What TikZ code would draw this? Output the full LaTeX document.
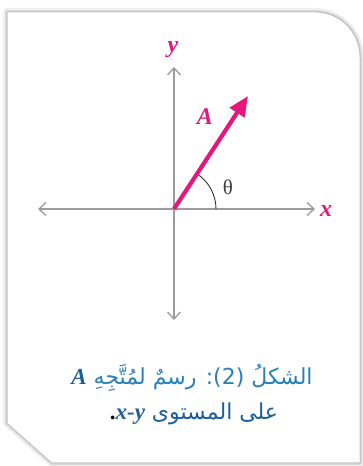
\documentclass[tikz,border=0pt]{standalone}
\usepackage{fontspec}
\setmainfont{Liberation Serif}
\newfontfamily\arabicfont[Script=Arabic]{DejaVu Sans}
\TeXXeTstate=1
\usetikzlibrary{arrows.meta,calc}
\definecolor{vecmag}{HTML}{E5177C}
\definecolor{axgray}{HTML}{9C9C9C}
\definecolor{capblue}{HTML}{2B80B9}
\definecolor{capdark}{HTML}{1D5E9C}
\newcommand{\latinbi}[1]{{\color{capdark}\fontsize{23}{24}\rmfamily\bfseries\itshape #1}}
\begin{document}
\begin{tikzpicture}[x=1pt,y=1pt,
  axisline/.style={draw=axgray,line width=1.4pt,
    {Straight Barb[length=7pt,width=13pt,line width=1.3pt]}-{Straight Barb[length=7pt,width=13pt,line width=1.3pt]}},
  vecline/.style={draw=vecmag,line width=4.2pt,-{Triangle[length=20pt,width=17pt]}},
  labtxt/.style={text=vecmag,font=\fontsize{24}{26}\selectfont\bfseries\itshape},
  captxt/.style={text=capblue,font=\fontsize{22}{24}\arabicfont}
]
\useasboundingbox (0,0) rectangle (363,466);
% card frame
\def\cardpath{(7,43) -- (7,454) -- (315,454) arc[start angle=90,end angle=0,radius=45] -- (360,3) -- (52,3) -- cycle}
\fill[white] \cardpath;
\draw[gray!12,line width=8pt,line join=round] \cardpath;
\draw[gray!30,line width=4pt,line join=round] \cardpath;
\draw[gray!55,line width=1pt,line join=round] \cardpath;
\fill[white] (7.5,43) -- (7.5,453.5) -- (315,453.5) arc[start angle=90,end angle=0,radius=44.5] -- (359.5,3.5) -- (52,3.5) -- cycle;
% axes
\coordinate (O) at (174,257);
\coordinate (xl) at (38,257);
\coordinate (xr) at (315,257);
\coordinate (yt) at (174,399);
\coordinate (yb) at (174,146);
\coordinate (tip) at (248,370);
\coordinate (arcstart) at (216,257);
\draw[axisline] (xl) -- (xr);
\draw[axisline] (yb) -- (yt);
\draw[color=black!80,line width=0.9pt] (arcstart) arc[start angle=0,end angle=56.8,radius=42];
\draw[vecline] (O) -- (tip);
\node[labtxt] (ylab) at (173,416) {y};
\node[labtxt] (xlab) at (326,255) {x};
\node[labtxt] (Alab) at (205,349) {A};
\node[text=black!75,font=\fontsize{21}{22}\selectfont] (th) at (228,279) {θ};
% caption
\node[captxt] (c1) at (192,88) {\beginR الشكلُ (2): رسمٌ لمُتَّجِهِ \beginL\latinbi{A}\endL\endR};
\node[captxt] (c2) at (194,52) {\beginR على المستوى \beginL\latinbi{x-y}\endL\latinbi{\upshape.}\endR};
\end{tikzpicture}
\end{document}
